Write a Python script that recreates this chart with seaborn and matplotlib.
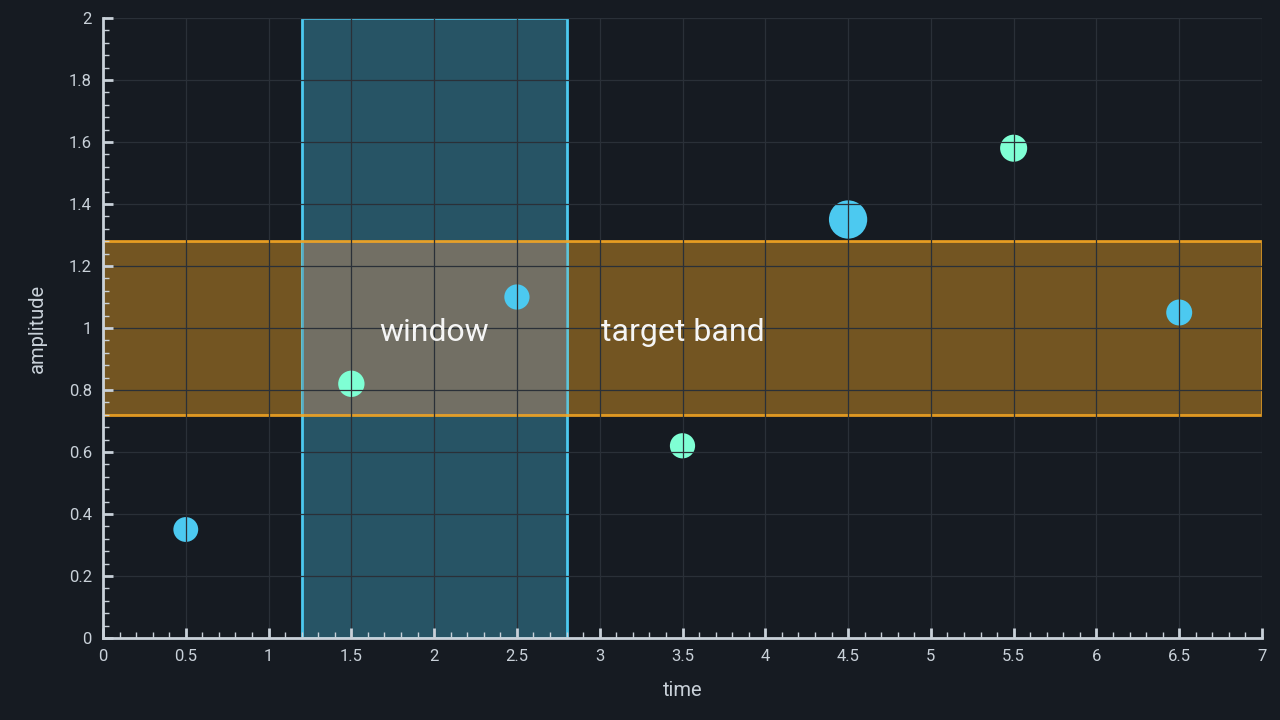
import matplotlib
matplotlib.use("Agg")
import matplotlib.pyplot as plt
import matplotlib.colors as mcolors
from matplotlib.patches import Rectangle
import seaborn as sns
import pandas as pd
from matplotlib.ticker import MultipleLocator, FuncFormatter

# data
time = [0.5, 1.5, 2.5, 3.5, 4.5, 5.5, 6.5]
amplitude = [0.35, 0.82, 1.10, 0.62, 1.35, 1.58, 1.05]
series = ["a", "b", "a", "b", "a", "b", "a"]
weight = [320, 360, 330, 330, 760, 380, 350]
window_range = [1.2, 2.8]
band_range = [0.72, 1.28]
labels = ["window", "target band"]

BG = "#161b22"
FG = "#c9d1d9"
BLUE = "#4cc9f0"
GREEN = "#7fffd4"
ORANGE = "#f5a623"
OVERLAP = "#726f64"

sns.set_theme(style="dark")
plt.rcParams["font.family"] = ["Roboto", "DejaVu Sans"]

df = pd.DataFrame({"time": time, "amplitude": amplitude, "series": series, "weight": weight})

fig = plt.figure(figsize=(12.8, 7.2), dpi=100, facecolor=BG)
ax = fig.add_axes([103 / 1280, 1 - 638 / 720, (1262 - 103) / 1280, (638 - 18) / 720])
ax.set_facecolor(BG)

ax.set_xlim(0, 7)
ax.set_ylim(0, 2)

# bands
ax.axvspan(window_range[0], window_range[1], ymin=0, ymax=1,
           facecolor=mcolors.to_rgba(BLUE, 0.33), edgecolor=BLUE, lw=2, zorder=1)
ax.axhspan(band_range[0], band_range[1], xmin=0, xmax=1,
           facecolor=mcolors.to_rgba(ORANGE, 0.42), edgecolor="none", zorder=1.2)
ax.add_patch(Rectangle((window_range[0], band_range[0]), window_range[1] - window_range[0],
                       band_range[1] - band_range[0], facecolor=OVERLAP, edgecolor="none",
                       zorder=1.3))
ax.vlines(window_range, band_range[0], band_range[1], color=BLUE, lw=2, alpha=0.7, zorder=1.4)
ax.axhspan(band_range[0], band_range[1], xmin=0, xmax=1, facecolor="none",
           edgecolor=mcolors.to_rgba(ORANGE, 0.9), lw=2, zorder=1.5)

sns.scatterplot(data=df, x="time", y="amplitude", hue="series",
                palette={"a": BLUE, "b": GREEN}, size="weight",
                sizes={v: v for v in sorted(set(weight))}, linewidth=0,
                legend=False, ax=ax, zorder=2)

ax.text(sum(window_range) / 2, 0.987, labels[0], color="#f5f5f5", fontsize=23,
        ha="center", va="center", zorder=4)
ax.text(3.5, 0.987, labels[1], color="#f5f5f5", fontsize=23,
        ha="center", va="center", zorder=4)

ax.xaxis.set_major_locator(MultipleLocator(0.5))
ax.xaxis.set_minor_locator(MultipleLocator(0.1))
ax.yaxis.set_major_locator(MultipleLocator(0.2))
ax.yaxis.set_minor_locator(MultipleLocator(0.04))
fmt = FuncFormatter(lambda v, p: "%g" % round(v, 2))
ax.xaxis.set_major_formatter(fmt)
ax.yaxis.set_major_formatter(fmt)

ax.set_axisbelow(False)
ax.grid(True, which="major", color="#2a3038", lw=0.9)
ax.grid(False, which="minor")

for s in ["top", "right"]:
    ax.spines[s].set_visible(False)
for s in ["left", "bottom"]:
    ax.spines[s].set_visible(True)
    ax.spines[s].set_color(FG)
    ax.spines[s].set_linewidth(2)
    ax.spines[s].set_zorder(5)

ax.tick_params(which="major", direction="in", length=7, width=2, color=FG,
               labelcolor=FG, labelsize=12, pad=8, bottom=True, left=True)
ax.tick_params(which="minor", direction="in", length=4, width=1, color=FG,
               bottom=True, left=True)

ax.set_xlabel("time", color=FG, fontsize=14.5, labelpad=12)
ax.set_ylabel("amplitude", color=FG, fontsize=14.5, labelpad=16)

fig.savefig("out.png", dpi=100, facecolor=BG)
